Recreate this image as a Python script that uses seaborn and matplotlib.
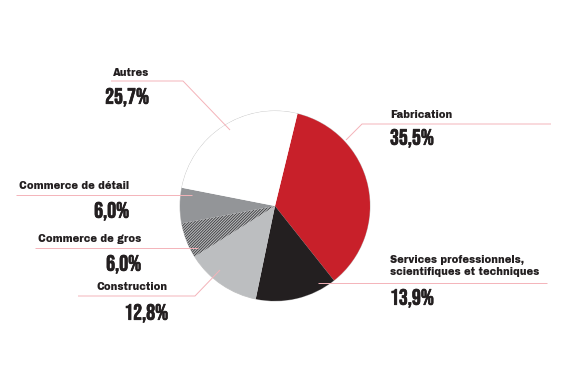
import matplotlib
matplotlib.use("Agg")
import matplotlib.pyplot as plt
from matplotlib import font_manager
from matplotlib.patches import Circle
import matplotlib.patheffects as pe
import seaborn as sns

# data
sectors = ["Fabrication", "Services professionnels,\nscientifiques et techniques",
           "Construction", "Commerce de gros", "Commerce de détail", "Autres"]
shares = [35.5, 13.9, 12.8, 6.0, 6.0, 25.7]
pct_labels = ["35,5%", "13,9%", "12,8%", "6,0%", "6,0%", "25,7%"]

colors = ["#C8202A", "#231F20", "#BCBEC0", "#B8B9BB", "#939598", "#FFFFFF"]
ink = "#231F20"
pink = "#F4B3B9"

sns.set_theme(style="white")
plt.rcParams["hatch.linewidth"] = 0.6


def pick(names):
    for n in names:
        try:
            font_manager.findfont(n, fallback_to_default=False)
            return n
        except Exception:
            pass
    return "DejaVu Sans"


narrow = pick(["Bebas Neue", "Oswald", "Roboto Condensed", "Liberation Sans Narrow"])
wide = pick(["Archivo Black", "Archivo", "DejaVu Sans"])

fig = plt.figure(figsize=(5.7, 3.8), dpi=100)
ax = fig.add_axes([0, 0, 1, 1])

H = 380
cx, cy, r = 275, H - 206, 95
wedges, _ = ax.pie(shares, colors=colors, startangle=76.3, counterclock=False,
                   center=(cx, cy), radius=r,
                   wedgeprops=dict(linewidth=0))
ax.set_xlim(0, 570)
ax.set_ylim(0, 380)
ax.set_aspect("equal")
ax.axis("off")

# thin outline of the pie, mostly visible on the white wedge
ax.add_patch(Circle((cx, cy), r, fill=False, ec="#C4C4C4", lw=0.6, zorder=0.5))

# finely hatched wedge
wedges[3].set_hatch("////////////")
wedges[3].set_edgecolor("#3A3A3C")
wedges[3].set_linewidth(0)

# layout of the callouts (pixel coords, y from top)
# (text x, name y, pct y, align, leader line points)
layout = [
    (390, 115, 138, "left", [(346, 140), (362, 124), (551, 124)]),
    (390, 266, 298, "left", [(318, 283), (547, 283)]),
    (168, 287, 313, "right", [(220, 270), (195, 296), (78, 296)]),
    (141, 239, 264, "right", [(198, 248), (35, 248)]),
    (129, 186, 211, "right", [(192, 195), (16, 195)]),
    (149, 73, 97, "right", [(230, 130), (183, 81), (111, 81)]),
]

bold = [pe.withStroke(linewidth=0.5, foreground=ink)]

for name, pct, (tx, ny, py, ha, pts) in zip(sectors, pct_labels, layout):
    xs = [p[0] for p in pts]
    ys = [H - p[1] for p in pts]
    ax.plot(xs, ys, color=pink, lw=0.7, zorder=3, solid_capstyle="butt")
    ax.text(tx, H - ny, name, ha=ha, va="center", fontsize=7.2,
            fontweight="bold", family=wide, color=ink, linespacing=1.35)
    ax.text(tx, H - py, pct, ha=ha, va="center", fontsize=16,
            family=narrow, color=ink, path_effects=bold)

fig.savefig("out.png", dpi=100)
